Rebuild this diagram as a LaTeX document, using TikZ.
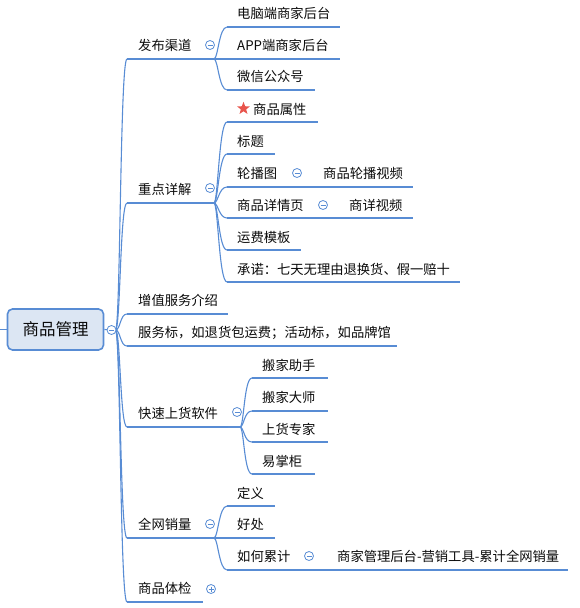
\documentclass[tikz,border=0pt]{standalone}
\usepackage{fontspec}
\setmainfont{Noto Sans CJK SC}
\usetikzlibrary{shapes.geometric}
\definecolor{xblue}{RGB}{88,140,212}
\definecolor{rootfill}{RGB}{220,230,243}
\definecolor{txt}{RGB}{10,10,10}
\definecolor{starred}{RGB}{232,84,76}
\tikzset{
 lbl/.style={anchor=west,inner sep=0pt,text=txt,font=\fontsize{13.3}{16}\selectfont},
 uline/.style={draw=xblue,line width=2.8pt},
 conn/.style={draw=xblue,line width=1.1pt},
 fold/.style={circle,draw=xblue,fill=white,line width=0.8pt,minimum size=9pt,inner sep=0pt,
   path picture={\draw[xblue,line width=0.8pt] ([xshift=2pt]path picture bounding box.west) -- ([xshift=-2pt]path picture bounding box.east);}},
 unfold/.style={circle,draw=xblue,fill=white,line width=0.8pt,minimum size=9pt,inner sep=0pt,
   path picture={\draw[xblue,line width=0.8pt] ([xshift=2pt]path picture bounding box.west) -- ([xshift=-2pt]path picture bounding box.east)
     ([yshift=-2pt]path picture bounding box.north) -- ([yshift=2pt]path picture bounding box.south);}},
}
\begin{document}
\begin{tikzpicture}[x=1pt,y=-1pt]
\useasboundingbox (0,0) rectangle (579,608);
% root
\node[draw=xblue,fill=rootfill,line width=1.6pt,rounded corners=5pt,minimum width=96pt,minimum height=41pt,inner sep=0pt,text=txt,font=\fontsize{16.5}{20}\selectfont] (root) at (55.5,329.5) {商品管理};
\coordinate (lft) at (0,329.5);
\coordinate (rcE) at (115.5,330);
% level 1 underline ends
\coordinate (fbL) at (127,59);  \coordinate (fbR) at (203,59);
\coordinate (zdL) at (127,203); \coordinate (zdR) at (203,203);
\coordinate (zzL) at (127,314); \coordinate (zzR) at (228,314);
\coordinate (fwL) at (127,346); \coordinate (fwR) at (397,346);
\coordinate (ksL) at (127,427); \coordinate (ksR) at (228,427);
\coordinate (qwL) at (127,538); \coordinate (qwR) at (203,538);
\coordinate (spL) at (127,602); \coordinate (spR) at (203,602);
% level 2
\coordinate (f1L) at (227,27);  \coordinate (f1R) at (340,27);
\coordinate (f2L) at (227,59);  \coordinate (f2R) at (340,59);
\coordinate (f3L) at (227,90);  \coordinate (f3R) at (315,90);
\coordinate (z1L) at (227,122); \coordinate (z1R) at (318,122);
\coordinate (z2L) at (227,154); \coordinate (z2R) at (275,154);
\coordinate (z3L) at (227,187); \coordinate (z3R) at (288,187);
\coordinate (z3aL) at (313,187); \coordinate (z3aR) at (413,187);
\coordinate (z4L) at (227,218); \coordinate (z4R) at (314,218);
\coordinate (z4aL) at (338,218); \coordinate (z4aR) at (413,218);
\coordinate (z5L) at (227,250); \coordinate (z5R) at (301,250);
\coordinate (z6L) at (227,282); \coordinate (z6R) at (460,282);
\coordinate (k1L) at (252,378); \coordinate (k1R) at (328,378);
\coordinate (k2L) at (252,411); \coordinate (k2R) at (328,411);
\coordinate (k3L) at (252,442); \coordinate (k3R) at (328,442);
\coordinate (k4L) at (252,474); \coordinate (k4R) at (315,474);
\coordinate (q1L) at (227,506); \coordinate (q1R) at (275,506);
\coordinate (q2L) at (227,538); \coordinate (q2R) at (275,538);
\coordinate (q3L) at (227,570); \coordinate (q3R) at (301,570);
\coordinate (q3aL) at (326,570); \coordinate (q3aR) at (568,570);
% connectors from root
\draw[conn] (lft) -- (root.west);
\draw[conn] (root.east) -- (rcE);
\foreach \t in {fbL,zdL,zzL,fwL,ksL,qwL,spL}
  \draw[conn] (rcE) .. controls +(5,0) and +(-7,0) .. (\t);
% connectors level 2
\foreach \t in {f1L,f2L,f3L} \draw[conn] (fbR) -- ++(11,0) .. controls +(4,0) and +(-8,0) .. (\t);
\foreach \t in {z1L,z2L,z3L,z4L,z5L,z6L} \draw[conn] (zdR) -- ++(11,0) .. controls +(4,0) and +(-8,0) .. (\t);
\draw[conn] (z3R) -- (z3aL);
\draw[conn] (z4R) -- (z4aL);
\foreach \t in {k1L,k2L,k3L,k4L} \draw[conn] (ksR) -- ++(12,0) .. controls +(4,0) and +(-8,0) .. (\t);
\foreach \t in {q1L,q2L,q3L} \draw[conn] (qwR) -- ++(11,0) .. controls +(4,0) and +(-8,0) .. (\t);
\draw[conn] (q3R) -- (q3aL);
% underlines
\foreach \u in {fb,zd,zz,fw,ks,qw,sp,f1,f2,f3,z1,z2,z3,z3a,z4,z4a,z5,z6,k1,k2,k3,k4,q1,q2,q3,q3a}
  \draw[uline] (\u L) -- (\u R);
% texts
\node[lbl] (fb) at (138,45.5) {发布渠道};
\node[lbl] (zd) at (138,189) {重点详解};
\node[lbl] (zz) at (138,300) {增值服务介绍};
\node[lbl] (fw) at (138,332.5) {服务标，如退货包运费；活动标，如品牌馆};
\node[lbl] (ks) at (138,413) {快速上货软件};
\node[lbl] (qw) at (138,524) {全网销量};
\node[lbl] (sp) at (138,588.5) {商品体检};
\node[lbl] (f1) at (237,13.5) {电脑端商家后台};
\node[lbl] (f2) at (237,45.5) {APP端商家后台};
\node[lbl] (f3) at (237,76.5) {微信公众号};
\node[star,star points=5,star point ratio=2.4,fill=starred,minimum size=13.5pt,inner sep=0pt] (star) at (243.5,108.5) {};
\node[lbl] (z1) at (253,109) {商品属性};
\node[lbl] (z2) at (237,141) {标题};
\node[lbl] (z3) at (237,173.5) {轮播图};
\node[lbl] (z3a) at (323,173.5) {商品轮播视频};
\node[lbl] (z4) at (237,205) {商品详情页};
\node[lbl] (z4a) at (349,205) {商详视频};
\node[lbl] (z5) at (237,237) {运费模板};
\node[lbl] (z6) at (237,269) {承诺：七天无理由退换货、假一赔十};
\node[lbl] (k1) at (262,365) {搬家助手};
\node[lbl] (k2) at (262,397.5) {搬家大师};
\node[lbl] (k3) at (262,429) {上货专家};
\node[lbl] (k4) at (262,461) {易掌柜};
\node[lbl] (q1) at (237,493) {定义};
\node[lbl] (q2) at (237,524.5) {好处};
\node[lbl] (q3) at (237,556.5) {如何累计};
\node[lbl] (q3a) at (337,556.5) {商家管理后台-营销工具-累计全网销量};
% fold markers
\node[fold] (rc) at (111.5,330) {};
\node[fold] (fbc) at (210,45) {};
\node[fold] (zdc) at (210,188) {};
\node[fold] (z3c) at (297,173) {};
\node[fold] (z4c) at (323,205) {};
\node[fold] (ksc) at (237,412) {};
\node[fold] (qwc) at (210,524) {};
\node[fold] (q3c) at (309,556) {};
\node[unfold] (spc) at (211,589) {};
\end{tikzpicture}
\end{document}
